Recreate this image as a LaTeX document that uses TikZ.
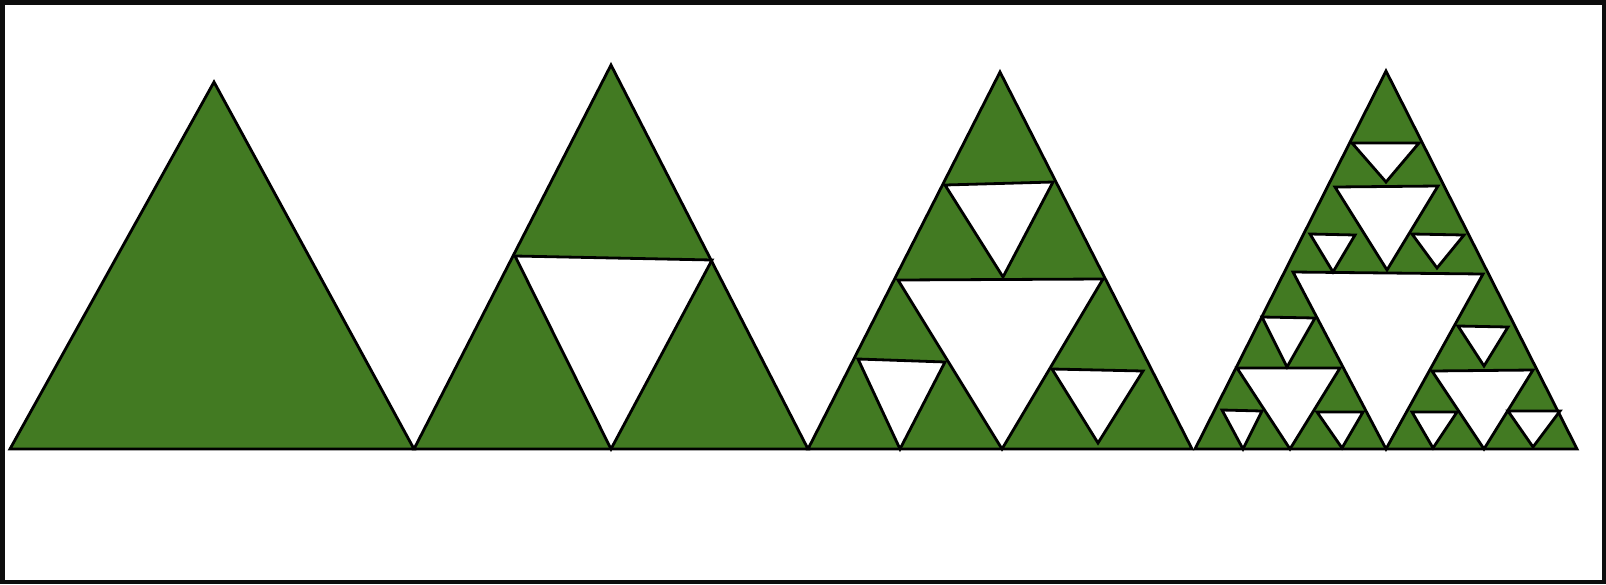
\documentclass[tikz,border=0pt]{standalone}
\definecolor{sgreen}{RGB}{66,122,34}
\tikzset{
  tri/.style={fill=sgreen, draw=black, line width=1.4pt},
  hole/.style={fill=white, draw=black, line width=1.4pt},
  frame/.style={draw=black!95, line width=2.25pt}
}
\newcommand\holetri[3]{\filldraw[hole] (#1) -- (#2) -- (#3) -- cycle;}
\begin{document}
\begin{tikzpicture}[x=0.5pt, y=-0.5pt]
  \useasboundingbox (0,0) rectangle (1606,584);
  \draw[frame] (2.25,2.25) rectangle (1603.75,581.75);
  % stage 0
  \filldraw[tri] (10,449) -- (414,449) -- (214,82) -- cycle;
  % stage 1
  \filldraw[tri] (414,449) -- (808,449) -- (611,65) -- cycle;
  \holetri{515,256}{712,260}{611,449}
  % stage 2
  \filldraw[tri] (808,449) -- (1192,449) -- (1000,72) -- cycle;
  \holetri{898,280}{1103,279}{1002,449}
  \holetri{945,185}{1053,182}{1003,277}
  \holetri{858,359}{945,362}{900,449}
  \holetri{1052,369}{1143,371}{1098,443}
  % stage 3
  \filldraw[tri] (1195,449) -- (1577,449) -- (1386,71) -- cycle;
  \holetri{1293,272}{1483,274}{1386,449}
  \holetri{1335,187}{1438,186}{1387,270}
  \holetri{1352,143}{1419,143}{1386,182}
  \holetri{1310,234}{1355,235}{1333,272}
  \holetri{1412,234}{1464,235}{1437,268}
  \holetri{1237,368}{1340,368}{1290,449}
  \holetri{1262,317}{1315,318}{1287,367}
  \holetri{1222,410}{1262,411}{1243,449}
  \holetri{1317,412}{1363,412}{1342,448}
  \holetri{1432,371}{1533,370}{1484,449}
  \holetri{1458,326}{1508,327}{1484,366}
  \holetri{1412,412}{1457,412}{1433,448}
  \holetri{1508,411}{1560,411}{1533,447}
\end{tikzpicture}
\end{document}
